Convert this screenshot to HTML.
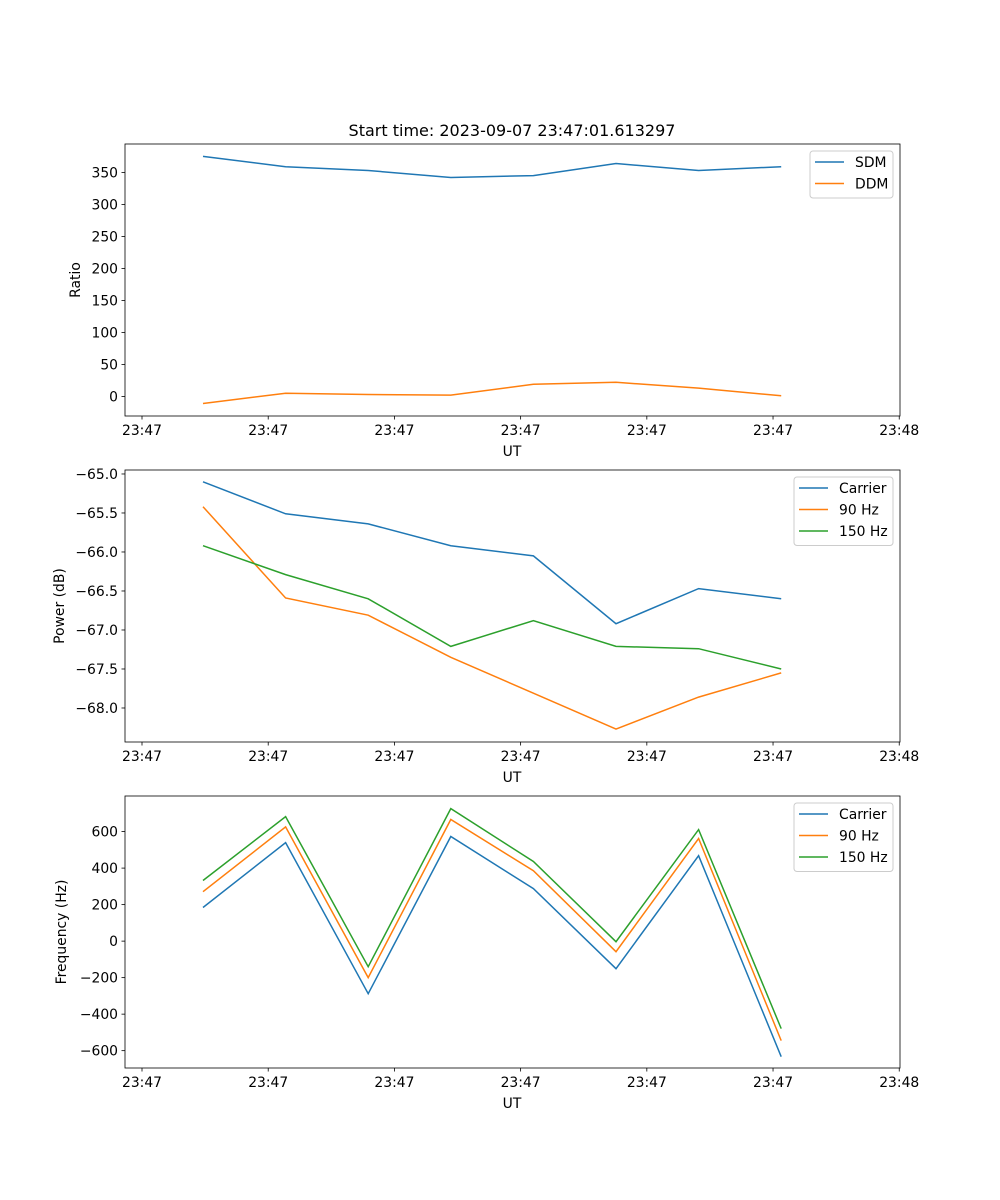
<!DOCTYPE html>
<html><head><meta charset="utf-8"><style>
body{margin:0;background:#fff}
svg{display:block;font-family:"DejaVu Sans","Liberation Sans",sans-serif}
</style></head><body>
<svg id="fig" width="1000" height="1200" viewBox="0 0 1000 1200">
<text x="512" y="136" font-size="16" text-anchor="middle">Start time: 2023-09-07 23:47:01.613297</text>
</svg>
<script>
const xTickLabels = ["23:47","23:47","23:47","23:47","23:47","23:47","23:48"];
const xTickVals = [0,1,2,3,4,5,6];
const times = [0.483,1.138,1.792,2.447,3.101,3.756,4.410,5.065];
const sdm = [375,359,353,342,345,364,353,359];
const ddm = [-11,5,3,2,19,22,13,1];
const pCarrier = [-65.10,-65.51,-65.64,-65.92,-66.05,-66.92,-66.47,-66.60];
const p90 = [-65.42,-66.59,-66.81,-67.35,-67.81,-68.27,-67.86,-67.55];
const p150 = [-65.92,-66.29,-66.60,-67.21,-66.88,-67.21,-67.24,-67.50];
const fCarrier = [184,540,-288,573,288,-151,468,-633];
const f90 = [271,626,-200,666,386,-58,562,-545];
const f150 = [332,682,-140,726,436,-3,611,-479];
const ratioTicks = [0,50,100,150,200,250,300,350];
const powerTicks = [-68.0,-67.5,-67.0,-66.5,-66.0,-65.5,-65.0];
const freqTicks = [-600,-400,-200,0,200,400,600];

const NS="http://www.w3.org/2000/svg";
const svg=document.getElementById('fig');
function el(tag,attrs,parent){const e=document.createElementNS(NS,tag);for(const k in attrs)e.setAttribute(k,attrs[k]);(parent||svg).appendChild(e);return e;}
const L=125,R=900;
const xMin=-0.1347,xMax=6.006;
function xs(v){return L+(v-xMin)/(xMax-xMin)*(R-L);}

function panel(key,top,bottom,yMin,yMax,ticks,fmt,ylabel,ylabelX,series,legend){
  const g=el('g',{});
  
  
  const ys=v=>bottom-(v-yMin)/(yMax-yMin)*(bottom-top);
  series.forEach(s=>{
    const p=el('polyline',{points:s.vals.map((v,i)=>xs(times[i]).toFixed(1)+','+ys(v).toFixed(1)).join(' '),fill:'none',stroke:s.color,'stroke-width':1.5},g);
    
    
  });
  const fr=el('rect',{x:L,y:top,width:R-L,height:bottom-top,fill:'none',stroke:'#000','stroke-width':0.8},g);
  
  
  xTickVals.forEach((t,i)=>{
    const x=xs(t);
    el('line',{x1:x,x2:x,y1:bottom,y2:bottom+3.5,stroke:'#000','stroke-width':0.8},g);
    const tx=el('text',{x:x,y:bottom+19,'font-size':13.9,'text-anchor':'middle'},g);
    tx.textContent=xTickLabels[i];
    
    
  });
  ticks.forEach(t=>{
    const y=ys(t);
    el('line',{x1:L,x2:L-3.5,y1:y,y2:y,stroke:'#000','stroke-width':0.8},g);
    const tx=el('text',{x:L-7,y:y+5,'font-size':13.9,'text-anchor':'end'},g);
    tx.textContent=fmt(t);
    
    
  });
  const xl=el('text',{x:512,y:bottom+40,'font-size':13.9,'text-anchor':'middle'},g);
  xl.textContent='UT';
  
  
  const cy=(top+bottom)/2;
  const yl=el('text',{x:ylabelX,y:cy,'font-size':13.9,'text-anchor':'middle',transform:'rotate(-90 '+ylabelX+' '+cy+')'},g);
  yl.textContent=ylabel;
  
  
  const lg=el('g',{},g);
  
  
  el('rect',{x:legend.x,y:top+7,width:legend.w,height:series.length*21.5+4,rx:3,fill:'#fff',stroke:'#ccc','stroke-width':1},lg);
  series.forEach((s,i)=>{
    const y=top+18+i*21.5;
    el('line',{x1:legend.x+5,x2:legend.x+34,y1:y,y2:y,stroke:s.color,'stroke-width':1.5},lg);
    const t=el('text',{x:legend.x+45,y:y+5,'font-size':13.9},lg);
    t.textContent=s.name;
    
    
  });
}
const B='#1f77b4',O='#ff7f0e',G='#2ca02c';
panel('ratio',144,416,-30.6,394.4,ratioTicks,v=>String(v),'Ratio',80,
  [{id:'sdm',name:'SDM',vals:sdm,color:B},{id:'ddm',name:'DDM',vals:ddm,color:O}],{x:810,w:83});
panel('power',470,742,-68.436,-64.949,powerTicks,v=>'\u2212'+Math.abs(v).toFixed(1),'Power (dB)',64,
  [{id:'carrier',name:'Carrier',vals:pCarrier,color:B},{id:'90hz',name:'90 Hz',vals:p90,color:O},{id:'150hz',name:'150 Hz',vals:p150,color:G}],{x:794,w:99});
panel('frequency',796,1068,-695,795,freqTicks,v=>v<0?'\u2212'+Math.abs(v):String(v),'Frequency (Hz)',66,
  [{id:'carrier',name:'Carrier',vals:fCarrier,color:B},{id:'90hz',name:'90 Hz',vals:f90,color:O},{id:'150hz',name:'150 Hz',vals:f150,color:G}],{x:794,w:99});
</script>
</body></html>
